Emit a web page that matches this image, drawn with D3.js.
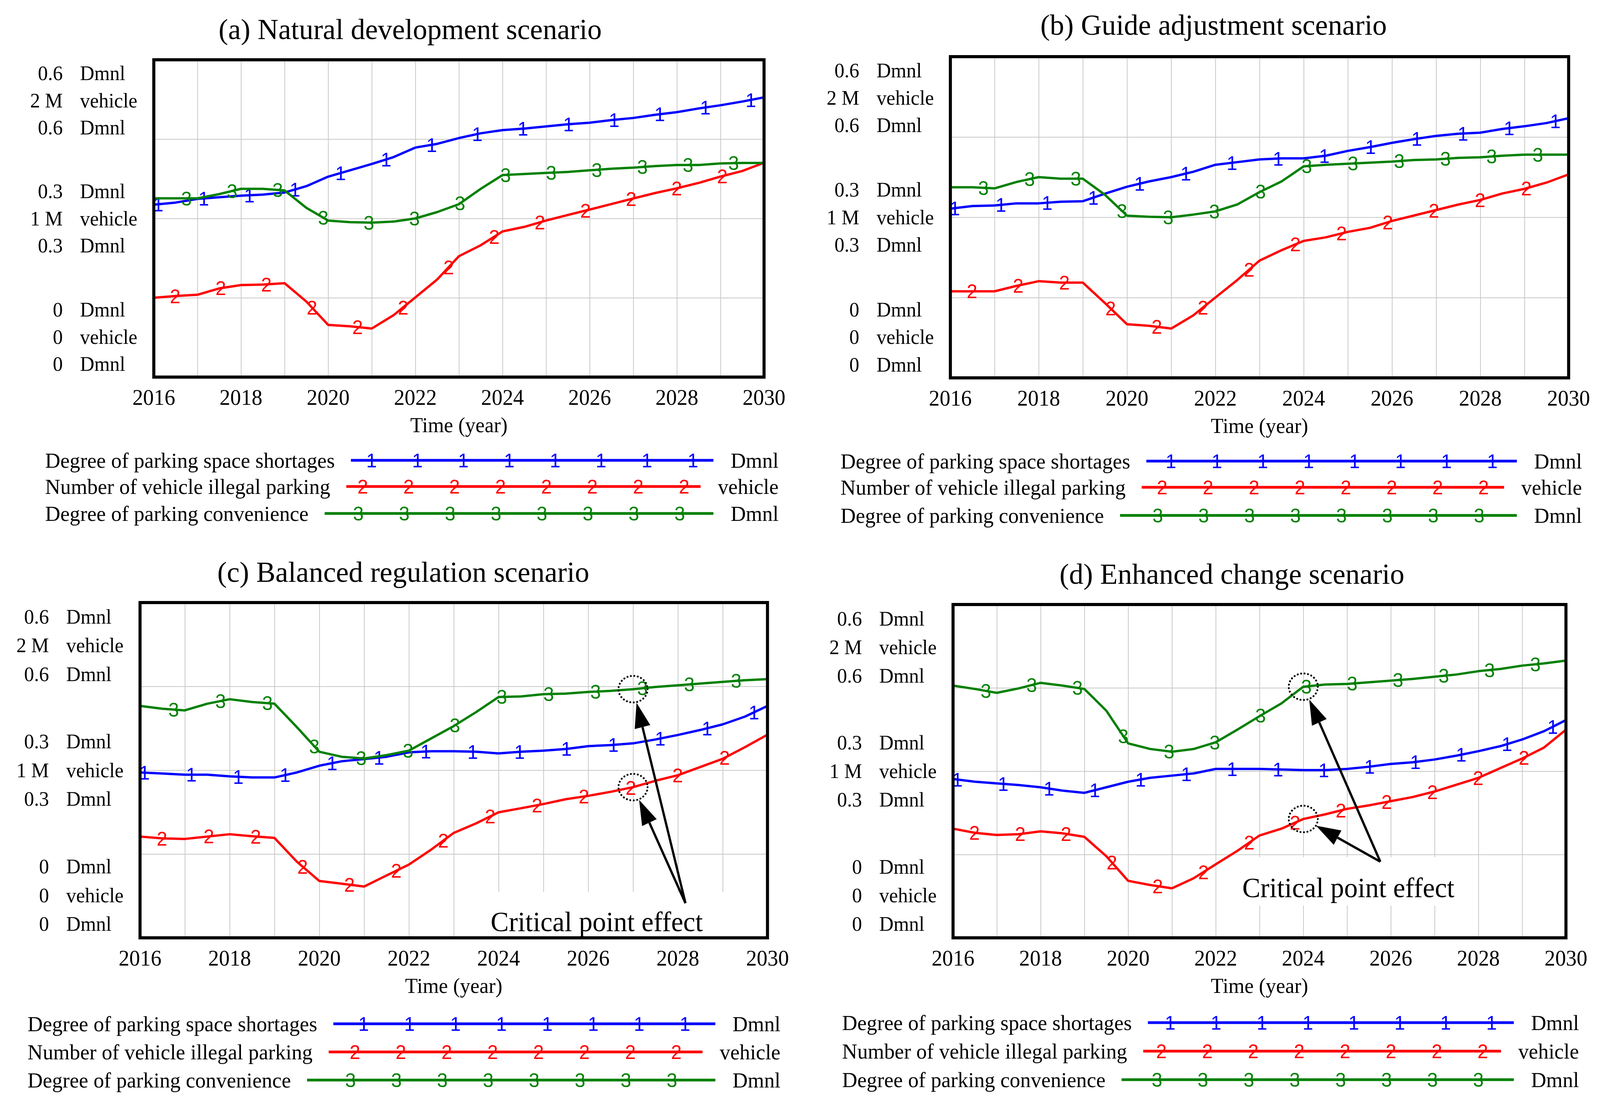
<!DOCTYPE html>
<html>
<head>
<meta charset="utf-8">
<script src="https://cdn.jsdelivr.net/npm/d3@7/dist/d3.min.js"></script>
<style>
	html, body {margin:0; padding:0; width:100%; height:100%; overflow:hidden; background:#fff;}
	#chart, #chart svg {display:block; width:100%; height:100%;}
	text {font-family:"Liberation Serif","Times New Roman",serif; fill:#000;}
	text.marker {font-family:"Liberation Sans",Arial,sans-serif;}
</style>
</head>
<body>
<div id="chart"></div>
<script>
const years = [2016,2016.5,2017,2017.5,2018,2018.5,2019,2019.5,2020,2020.5,2021,2021.5,2022,2022.5,2023,
	2023.5,2024,2024.5,2025,2025.5,2026,2026.5,2027,2027.5,2028,2028.5,2029,2029.5,2030];

// (a) natural development
const shortageA    = [0.326,0.330,0.337,0.340,0.343,0.345,0.349,0.361,0.379,0.391,0.403,0.416,0.434,0.441,0.452,
	0.461,0.467,0.470,0.474,0.478,0.481,0.486,0.490,0.496,0.501,0.508,0.514,0.521,0.529];
const illegalA     = [0.500,0.511,0.519,0.559,0.580,0.583,0.592,0.476,0.329,0.320,0.306,0.390,0.502,0.615,0.762,
	0.831,0.918,0.947,0.987,1.022,1.056,1.091,1.126,1.160,1.190,1.224,1.264,1.299,1.351];
const convenienceA = [0.338,0.338,0.338,0.346,0.356,0.356,0.353,0.320,0.296,0.293,0.292,0.294,0.300,0.312,0.327,
	0.356,0.382,0.384,0.386,0.388,0.391,0.394,0.396,0.399,0.401,0.401,0.404,0.405,0.405];

// (b) guide adjustment
const shortageB    = [0.316,0.321,0.322,0.326,0.326,0.329,0.330,0.344,0.357,0.367,0.375,0.385,0.398,0.403,0.408,
	0.410,0.410,0.415,0.424,0.431,0.439,0.446,0.452,0.456,0.458,0.465,0.470,0.476,0.485];
const illegalB     = [0.539,0.539,0.539,0.573,0.602,0.593,0.593,0.466,0.334,0.324,0.307,0.389,0.500,0.610,0.730,
	0.795,0.853,0.875,0.909,0.934,0.977,1.011,1.045,1.079,1.108,1.148,1.177,1.216,1.267];
const convenienceB = [0.356,0.356,0.354,0.366,0.375,0.372,0.372,0.342,0.303,0.301,0.300,0.305,0.311,0.324,0.347,
	0.367,0.395,0.398,0.400,0.402,0.404,0.407,0.408,0.411,0.412,0.415,0.417,0.417,0.417];

// (c) balanced regulation
const shortageC    = [0.296,0.294,0.292,0.292,0.289,0.287,0.287,0.296,0.308,0.316,0.320,0.324,0.332,0.334,0.334,
	0.333,0.330,0.333,0.335,0.338,0.343,0.345,0.348,0.355,0.363,0.372,0.382,0.396,0.415];
const illegalC     = [0.604,0.593,0.590,0.604,0.618,0.606,0.596,0.454,0.339,0.323,0.306,0.372,0.437,0.527,0.626,
	0.683,0.749,0.773,0.798,0.827,0.847,0.871,0.899,0.937,0.970,1.019,1.068,1.138,1.212];
const convenienceC = [0.415,0.410,0.407,0.419,0.427,0.422,0.419,0.377,0.333,0.324,0.321,0.327,0.335,0.357,0.379,
	0.404,0.431,0.432,0.436,0.437,0.440,0.442,0.445,0.449,0.452,0.455,0.458,0.461,0.463];

// (d) enhanced change
const shortageD    = [0.286,0.281,0.278,0.275,0.271,0.265,0.261,0.271,0.281,0.288,0.292,0.296,0.304,0.304,0.304,
	0.303,0.302,0.302,0.304,0.308,0.313,0.316,0.321,0.328,0.336,0.345,0.357,0.372,0.392];
const illegalD     = [0.655,0.630,0.617,0.622,0.639,0.627,0.606,0.490,0.342,0.317,0.297,0.358,0.441,0.523,0.614,
	0.655,0.713,0.741,0.774,0.795,0.820,0.845,0.878,0.919,0.960,1.018,1.076,1.142,1.249];
const convenienceD = [0.454,0.448,0.441,0.449,0.459,0.454,0.448,0.409,0.350,0.340,0.335,0.340,0.352,0.375,0.399,
	0.422,0.452,0.456,0.457,0.460,0.463,0.466,0.470,0.474,0.480,0.484,0.490,0.494,0.499];

const panelTitles = ["(a) Natural development scenario","(b) Guide adjustment scenario",
	"(c) Balanced regulation scenario","(d) Enhanced change scenario"];
const seriesNames = ["Degree of parking space shortages","Number of vehicle illegal parking","Degree of parking convenience"];
const seriesUnits = ["Dmnl","vehicle","Dmnl"];
const seriesTags  = ["1","2","3"];
const xTickLabels = [2016,2018,2020,2022,2024,2026,2028,2030];
const axisTopLabels = [["0.6","Dmnl"],["2 M","vehicle"],["0.6","Dmnl"]];
const axisMidLabels = [["0.3","Dmnl"],["1 M","vehicle"],["0.3","Dmnl"]];
const axisLowLabels = [["0","Dmnl"],["0","vehicle"],["0","Dmnl"]];
const xLabel = "Time (year)";
const noteText = "Critical point effect";
// critical point year in panels c and d, arrow tail (year, Dmnl)
const criticalYears = [null,null,2027,2024];
const arrowTails = [null,null,[2028.17,0.062],[2025.76,0.137]];
const noteAnchors = [null,null,[2026.19,0.029],[2025.03,0.090]];
const noteBoxes = [null,null,[2023.2,2030,0,0.082],[2022.45,2027.6,0.058,0.145]];

const panelData = [
	[shortageA,illegalA,convenienceA],
	[shortageB,illegalB,convenienceB],
	[shortageC,illegalC,convenienceC],
	[shortageD,illegalD,convenienceD]
];

// ---- layout ----
const width = 4182, height = 2815;
const colors = ["#0000ff","#ff0000","#008000"];
const maxima = [0.6,2,0.6];   // scale top for each series (Dmnl, M vehicle, Dmnl)
const markerStart = [0.1,0.49,0.75], markerStep = 1.046;

const layout = [
	{left:402, right:1997, top:153, bottom:965, titleX:1072, titleY:75, legLeft:118, legRight:2035, legRows:[1178,1245,1314]},
	{left:2484,right:4100, top:145, bottom:967, titleX:3172, titleY:64, legLeft:2197,legRight:4135, legRows:[1180,1247,1319]},
	{left:366, right:2006, top:1542,bottom:2400,titleX:1054, titleY:1464,legLeft:72, legRight:2040, legRows:[2620,2692,2764]},
	{left:2491,right:4093, top:1547,bottom:2400,titleX:3220, titleY:1469,legLeft:2201,legRight:4127, legRows:[2617,2690,2763]}
];

// stretch to whatever viewport the page gets
const svg = d3.select("#chart").append("svg")
	.attr("viewBox", `0 0 ${width} ${height}`)
	.attr("preserveAspectRatio", "none");
svg.append("rect").attr("width", width).attr("height", height).attr("fill", "#fff");

layout.forEach(function(L, p) {
	const g = svg.append("g").attr("class", "panel");
	const h = L.bottom - L.top;

	const xScale = d3.scaleLinear().domain([2016,2030]).range([L.left, L.right]);
	const yScales = maxima.map(m => d3.scaleLinear().domain([0,m]).range([L.bottom, L.top]));
	const yD = yScales[0];

	// title
	g.append("text")
		.attr("x", L.titleX).attr("y", L.titleY)
		.attr("dominant-baseline", "central")
		.attr("text-anchor", "middle")
		.style("font-size", "75px")
		.text(panelTitles[p]);

	// grid
	g.append("g")
		.attr("transform", `translate(0, ${L.bottom})`)
		.call(d3.axisBottom(xScale).tickValues(d3.range(2017,2030)).tickSize(-h).tickFormat(""))
		.call(a => a.select(".domain").remove())
		.selectAll("line").attr("stroke", "#c8c8c8").attr("stroke-width", 2);
	g.append("g")
		.attr("transform", `translate(${L.left}, 0)`)
		.call(d3.axisLeft(yD).tickValues([0.15,0.3,0.45]).tickSize(-(L.right-L.left)).tickFormat(""))
		.call(a => a.select(".domain").remove())
		.selectAll("line").attr("stroke", "#c8c8c8").attr("stroke-width", 2);

	// white box behind the note text
	if (noteBoxes[p]) {
		const b = noteBoxes[p];
		g.append("rect")
			.attr("x", xScale(b[0])).attr("y", yD(b[3]))
			.attr("width", xScale(b[1]) - xScale(b[0]))
			.attr("height", yD(b[2]) - yD(b[3]))
			.attr("fill", "#fff");
	}

	// series lines
	panelData[p].forEach(function(vals, s) {
		const pts = years.map((t, i) => ({t:t, v:vals[i]}));
		const line = d3.line()
			.x(d => xScale(d.t))
			.y(d => yScales[s](d.v));
		g.append("path").datum(pts)
			.attr("fill", "none")
			.attr("stroke", colors[s])
			.attr("stroke-width", 6)
			.attr("stroke-linejoin", "round")
			.attr("d", line);

		// numbered glyphs along the line
		const along = d3.scaleLinear().domain(years).range(vals);
		const marks = [];
		for (let t = 2016 + markerStart[s]; t < 2030; t += markerStep) marks.push(t);
		g.selectAll(null).data(marks).enter()
			.append("text")
			.attr("class", "marker")
			.attr("x", d => xScale(d))
			.attr("y", d => yScales[s](along(d)) + 18)
			.attr("text-anchor", "middle")
			.style("fill", colors[s])
			.style("font-size", "50px")
			.text(seriesTags[s]);
	});

	// frame
	g.append("rect")
		.attr("x", L.left).attr("y", L.top)
		.attr("width", L.right - L.left).attr("height", h)
		.attr("fill", "none")
		.attr("stroke", "#000")
		.attr("stroke-width", 8);

	// Vensim style stacked scale labels
	const step = h * 0.0855;
	const groups = [
		{labels:axisTopLabels, c:L.top + h*0.128},
		{labels:axisMidLabels, c:L.top + h/2},
		{labels:axisLowLabels, c:L.bottom - h*0.127}
	];
	groups.forEach(function(grp) {
		grp.labels.forEach(function(lab, k) {
			const yy = grp.c + (k-1)*step;
			g.append("text")
				.attr("x", L.left - 238).attr("y", yy)
				.attr("dominant-baseline", "central")
				.attr("text-anchor", "end")
				.style("font-size", "52px")
				.text(lab[0]);
			g.append("text")
				.attr("x", L.left - 193).attr("y", yy)
				.attr("dominant-baseline", "central")
				.style("font-size", "52px")
				.text(lab[1]);
		});
	});

	// x tick labels
	g.selectAll(null).data(xTickLabels).enter()
		.append("text")
		.attr("x", d => xScale(d))
		.attr("y", L.bottom + 52)
		.attr("dominant-baseline", "central")
		.attr("text-anchor", "middle")
		.style("font-size", "56px")
		.text(d => d);

	g.append("text")
		.attr("x", (L.left + L.right)/2)
		.attr("y", L.bottom + 123)
		.attr("dominant-baseline", "central")
		.attr("text-anchor", "middle")
		.style("font-size", "54px")
		.text(xLabel);

	// legend
	seriesNames.forEach(function(name, s) {
		const yy = L.legRows[s];
		const lab = g.append("text")
			.attr("x", L.legLeft).attr("y", yy)
			.attr("dominant-baseline", "central")
			.style("font-size", "55px")
			.text(name);
		const unit = g.append("text")
			.attr("x", L.legRight).attr("y", yy)
			.attr("dominant-baseline", "central")
			.attr("text-anchor", "end")
			.style("font-size", "55px")
			.text(seriesUnits[s]);
		const x0 = L.legLeft + lab.node().getComputedTextLength() + 42;
		const x1 = L.legRight - unit.node().getComputedTextLength() - 45;
		g.append("line")
			.attr("x1", x0).attr("x2", x1)
			.attr("y1", yy).attr("y2", yy)
			.attr("stroke", colors[s])
			.attr("stroke-width", 7);
		const mid = (x0 + x1)/2;
		g.selectAll(null).data(d3.range(8)).enter()
			.append("text")
			.attr("class", "marker")
			.attr("x", k => mid + (k - 3.5)*120)
			.attr("y", yy + 18)
			.attr("text-anchor", "middle")
			.style("fill", colors[s])
			.style("font-size", "50px")
			.text(seriesTags[s]);
	});

	// critical point annotation
	if (criticalYears[p]) {
		const idx = years.indexOf(criticalYears[p]);
		const tail = [xScale(arrowTails[p][0]), yD(arrowTails[p][1])];
		[2,1].forEach(function(s) {
			const cx = xScale(criticalYears[p]);
			const cy = yScales[s](panelData[p][s][idx]);
			g.append("ellipse")
				.attr("cx", cx).attr("cy", cy)
				.attr("rx", 38).attr("ry", 34)
				.attr("fill", "none")
				.attr("stroke", "#000")
				.attr("stroke-width", 5)
				.attr("stroke-linecap", "round")
				.attr("stroke-dasharray", "0.1 9");
			const dx = tail[0] - cx, dy = tail[1] - cy;
			const len = Math.sqrt(dx*dx + dy*dy);
			const ux = dx/len, uy = dy/len;
			const tip = [cx + ux*38, cy + uy*36];
			const headLen = 64, headW = 21;
			const base = [tip[0] + ux*headLen, tip[1] + uy*headLen];
			g.append("line")
				.attr("x1", tail[0]).attr("y1", tail[1])
				.attr("x2", base[0]).attr("y2", base[1])
				.attr("stroke", "#000")
				.attr("stroke-width", 6);
			g.append("path")
				.attr("d", d3.line()([
					tip,
					[base[0] - uy*headW, base[1] + ux*headW],
					[base[0] + uy*headW, base[1] - ux*headW]
				]) + "Z")
				.attr("fill", "#000");
		});
		g.append("text")
			.attr("x", xScale(noteAnchors[p][0]))
			.attr("y", yD(noteAnchors[p][1]))
			.attr("dominant-baseline", "central")
			.attr("text-anchor", "middle")
			.style("font-size", "71px")
			.text(noteText);
	}
});
</script>
</body>
</html>
